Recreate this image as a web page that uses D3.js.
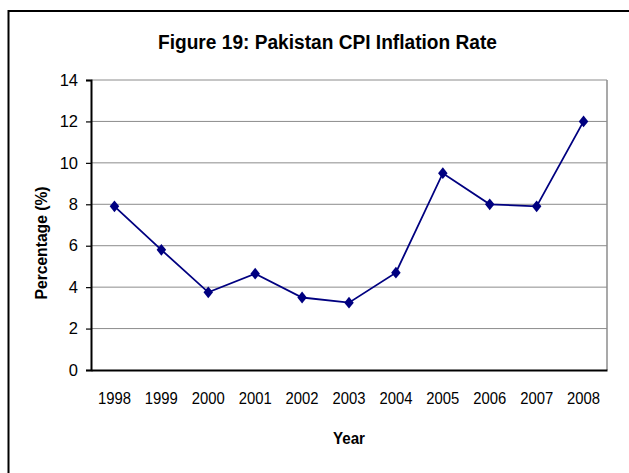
<!DOCTYPE html>
<html lang="en">
<head>
  <title>Pakistan CPI Inflation Rate</title>
  <style type="text/css">
    body { margin: 0; background: #fff; }
    svg { display: block; }
    text { font-family: "Liberation Sans", Arial, sans-serif; fill: #000; }
  </style>
  <script src="https://cdnjs.cloudflare.com/ajax/libs/d3/7.8.5/d3.min.js"></script>
</head>
<body>
  <div id="chart"></div>
  <script>
  // data
  var years = ["1998", "1999", "2000", "2001", "2002", "2003", "2004", "2005", "2006", "2007", "2008"];
  var inflation = [7.9, 5.8, 3.75, 4.65, 3.5, 3.25, 4.7, 9.5, 8.0, 7.9, 12.0];
  var yTicks = [0, 2, 4, 6, 8, 10, 12, 14];

  var w = 629, h = 473;
  // plot box (note: "top" is a reserved window global, so use plotTop)
  var plotLeft = 91, plotRight = 607, plotTop = 80, plotBottom = 370;

  var svg = d3.select("#chart").append("svg")
    .attr("width", w)
    .attr("height", h);

  // outer frame, runs off the right and bottom edges
  svg.append("rect")
    .attr("x", 8.5).attr("y", 11)
    .attr("width", 700).attr("height", 600)
    .attr("fill", "#fff")
    .attr("stroke", "#000")
    .attr("stroke-width", 2);

  var x = d3.scaleBand()
    .domain(years)
    .range([plotLeft, plotRight]);

  var y = d3.scaleLinear()
    .domain([0, 14])
    .range([plotBottom, plotTop]);

  // gridlines
  svg.append("g")
    .selectAll("line")
    .data(yTicks.filter(function(d) { return d > 0; }))
    .enter().append("line")
    .attr("x1", plotLeft).attr("x2", plotRight)
    .attr("y1", function(d) { return y(d); })
    .attr("y2", function(d) { return y(d); })
    .attr("stroke", "#8c8c8c")
    .attr("stroke-width", 1);

  // right border of plot
  svg.append("line")
    .attr("x1", plotRight).attr("x2", plotRight)
    .attr("y1", plotTop).attr("y2", plotBottom)
    .attr("stroke", "#8c8c8c")
    .attr("stroke-width", 1.5);

  // y axis
  var yAxis = svg.append("g")
    .attr("transform", "translate(" + plotLeft + ",0)")
    .call(d3.axisLeft(y).tickValues(yTicks).tickSize(5).tickPadding(8));
  yAxis.select(".domain").attr("stroke", "#000").attr("stroke-width", 2);
  yAxis.selectAll(".tick line").attr("stroke", "#000").attr("stroke-width", 1.2);
  yAxis.selectAll("text")
    .style("font-family", "'Liberation Sans', Arial, sans-serif")
    .style("font-size", "16.5px");

  // x axis
  var xAxis = svg.append("g")
    .attr("transform", "translate(0," + plotBottom + ")")
    .call(d3.axisBottom(x).tickSize(0).tickPadding(22));
  xAxis.select(".domain").attr("stroke", "#000").attr("stroke-width", 2);
  xAxis.selectAll("text")
    .style("font-family", "'Liberation Sans', Arial, sans-serif")
    .style("font-size", "17px")
    .attr("textLength", 33)
    .attr("lengthAdjust", "spacingAndGlyphs");

  // series line
  var line = d3.line()
    .x(function(d, i) { return x(years[i]) + x.bandwidth() / 2; })
    .y(function(d) { return y(d); });

  svg.append("path")
    .datum(inflation)
    .attr("d", line)
    .attr("fill", "none")
    .attr("stroke", "#000080")
    .attr("stroke-width", 1.8);

  // diamond markers
  var diamond = d3.symbol().type(d3.symbolDiamond2).size(80);
  svg.append("g")
    .selectAll("path")
    .data(inflation)
    .enter().append("path")
    .attr("d", diamond)
    .attr("transform", function(d, i) {
      return "translate(" + (x(years[i]) + x.bandwidth() / 2) + "," + y(d) + ") scale(0.85,1.05)";
    })
    .attr("fill", "#000080");

  // title and axis labels
  svg.append("text")
    .attr("x", 327.5).attr("y", 49)
    .attr("text-anchor", "middle")
    .style("font-size", "20px")
    .style("font-weight", "bold")
    .attr("textLength", 339)
    .attr("lengthAdjust", "spacingAndGlyphs")
    .text("Figure 19: Pakistan CPI Inflation Rate");

  svg.append("text")
    .attr("x", (plotLeft + plotRight) / 2).attr("y", 444)
    .attr("text-anchor", "middle")
    .style("font-size", "16px")
    .style("font-weight", "bold")
    .attr("textLength", 32)
    .attr("lengthAdjust", "spacingAndGlyphs")
    .text("Year");

  svg.append("text")
    .attr("transform", "translate(47," + ((plotTop + plotBottom) / 2 + 18) + ") rotate(-90)")
    .attr("text-anchor", "middle")
    .style("font-size", "16px")
    .style("font-weight", "bold")
    .attr("textLength", 113)
    .attr("lengthAdjust", "spacingAndGlyphs")
    .text("Percentage (%)");
  </script>
</body>
</html>
